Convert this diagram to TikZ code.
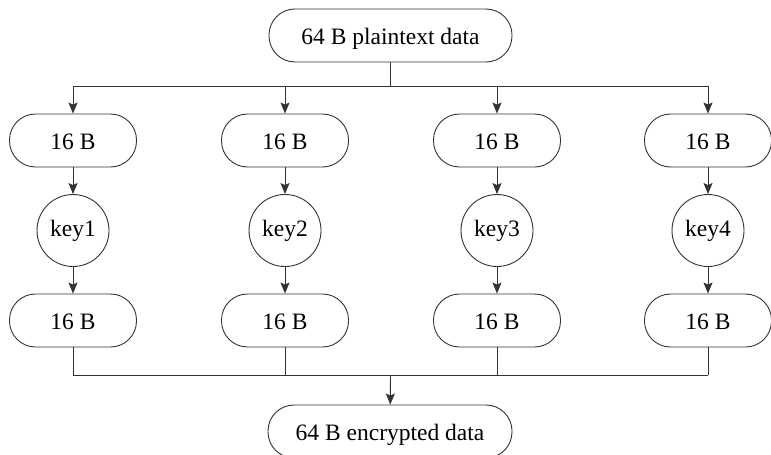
\documentclass[tikz,border=0pt]{standalone}
\usepackage{fontspec}
\setmainfont{Liberation Serif}
\usetikzlibrary{arrows.meta}
\begin{document}
\begin{tikzpicture}[x=1pt,y=-1pt,
  every node/.style={font=\fontsize{23.5}{27}\selectfont},
  pill/.style={draw=black!80, line width=0.9pt, rounded corners=26pt, minimum height=53pt, inner sep=0pt, text height=17pt, text depth=0pt},
  keycirc/.style={circle, draw=black!80, line width=0.9pt, minimum size=72pt, inner sep=0pt, text height=16pt, text depth=4.5pt},
  conn/.style={draw=black!80, line width=0.9pt},
  arr/.style={conn, -{Stealth[length=11pt,width=9pt,inset=2pt]}}]
\useasboundingbox (0,0) rectangle (771,455);
\clip (0,0) rectangle (771,455);
\node[pill, minimum width=243pt] (top) at (390.5,35.5) {64 B plaintext data};
\node[pill, minimum width=244pt] (bot) at (390,431.5) {64 B encrypted data};
\coordinate (tj) at (390.5,86);
\coordinate (bj) at (390.5,375);
\foreach \i/\x in {1/73,2/285,3/497,4/708}{
  \node[pill, minimum width=127pt] (u\i) at (\x,140.5) {16 B};
  \node[keycirc] (k\i) at (\x,230.5) {key\i};
  \node[pill, minimum width=127pt] (l\i) at (\x,320.5) {16 B};
  \coordinate (a\i) at (\x,86);
  \coordinate (b\i) at (\x,375);
  \draw[arr] (a\i) -- (u\i);
  \draw[arr] (u\i) -- (k\i);
  \draw[arr] (k\i) -- (l\i);
  \draw[conn] (l\i) -- (b\i);
}
\draw[conn] (top) -- (tj);
\draw[conn] (a1) -- (a4);
\draw[conn] (b1) -- (b4);
\draw[arr] (bj) -- (bot);
\end{tikzpicture}
\end{document}
